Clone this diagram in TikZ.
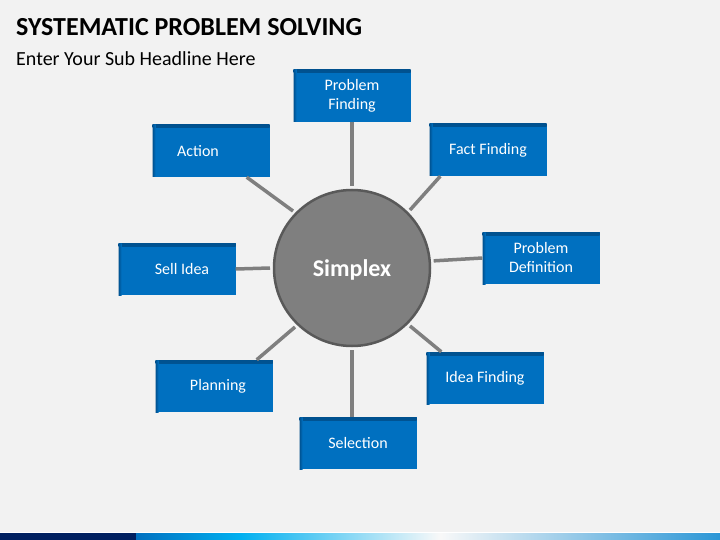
\documentclass[tikz,border=0pt]{standalone}
\usepackage{fontspec}
\setmainfont{Carlito}
\usepackage{tikz}
\definecolor{slidebg}{HTML}{F2F2F2}
\definecolor{boxblue}{HTML}{0070C0}
\definecolor{boxdark}{HTML}{00518F}
\definecolor{hubgray}{HTML}{7F7F7F}
\definecolor{hubrim}{HTML}{595959}
\definecolor{barnavy}{HTML}{002060}
\definecolor{barcyan}{HTML}{00B0F0}
\definecolor{barblue}{HTML}{2A96D6}
\tikzstyle{stepbox}=[fill=boxblue, text=white, inner sep=0, minimum width=117pt, minimum height=52pt,
                     align=center, font=\fontsize{16}{19}\selectfont,
                     % Dark inner edge on top and left.
                     path picture={
                       \shade[top color=boxdark, bottom color=boxblue] (path picture bounding box.north west) rectangle ([yshift=-3pt]path picture bounding box.north east);
                       \shade[left color=boxdark, right color=boxblue] (path picture bounding box.north west) rectangle ([xshift=3pt]path picture bounding box.south west);}]
\tikzstyle{hub}=[circle, fill=hubgray, draw=hubrim, line width=2.5pt, minimum size=156pt, outer sep=4pt,
                 text=white, text depth=0pt, font=\bfseries\fontsize{24}{28}\selectfont]
\tikzstyle{spoke}=[draw=hubgray, line width=3.5pt]
\begin{document}
\begin{tikzpicture}[x=1pt, y=-1pt]
    \fill[slidebg] (0, 0) rectangle (720, 540);
    \useasboundingbox (0, 0) rectangle (720, 540);
    % Headings.
    \node[anchor=base west, inner sep=0, font=\bfseries\fontsize{26}{30}\selectfont] (title) at (16, 36) {SYSTEMATIC PROBLEM SOLVING};
    \node[anchor=base west, inner sep=0, font=\fontsize{20}{24}\selectfont] (subtitle) at (16, 66) {Enter Your Sub Headline Here};
    % Hub and steps.
    \node[hub] (simplex) at (352, 268) {Simplex};
    \node[stepbox] (probfind) at (352, 96) {Problem\\Finding};
    \node[stepbox] (action) at (211, 151) {Action\hspace*{26pt}};
    \node[stepbox] (factfind) at (488, 150) {Fact Finding};
    \node[stepbox] (sellidea) at (177, 269) {\hspace*{10pt}Sell Idea};
    \node[stepbox] (probdef) at (541, 258) {Problem\\Definition};
    \node[stepbox] (planning) at (214, 386) {\hspace*{8pt}Planning};
    \node[stepbox] (ideafind) at (485, 378) {Idea Finding};
    \node[stepbox] (selection) at (358, 443) {Selection};
    \draw[spoke] (probfind.south) -- (simplex.90);
    \draw[spoke] ([xshift=-23pt]action.south east) -- (simplex.136);
    \draw[spoke] ([xshift=11pt]factfind.south west) -- (simplex.45);
    \draw[spoke] (sellidea.east) -- (simplex.180);
    \draw[spoke] (probdef.west) -- (simplex.5);
    \draw[spoke] ([xshift=-16pt]planning.north east) -- (simplex.226);
    \draw[spoke] ([xshift=15pt]ideafind.north west) -- (simplex.315);
    \draw[spoke] ([xshift=-6pt]selection.north) -- (simplex.270);
    % Footer bar.
    \fill[white] (0, 532) rectangle (720, 533);
    \fill[barnavy] (0, 533) rectangle (136, 540);
    \shade[left color=boxblue, right color=barcyan] (136, 533) rectangle (240, 540);
    \shade[left color=barcyan, right color=slidebg!50!white] (240, 533) rectangle (440, 540);
    \shade[left color=slidebg!50!white, right color=barblue] (440, 533) rectangle (720, 540);
\end{tikzpicture}
\end{document}
